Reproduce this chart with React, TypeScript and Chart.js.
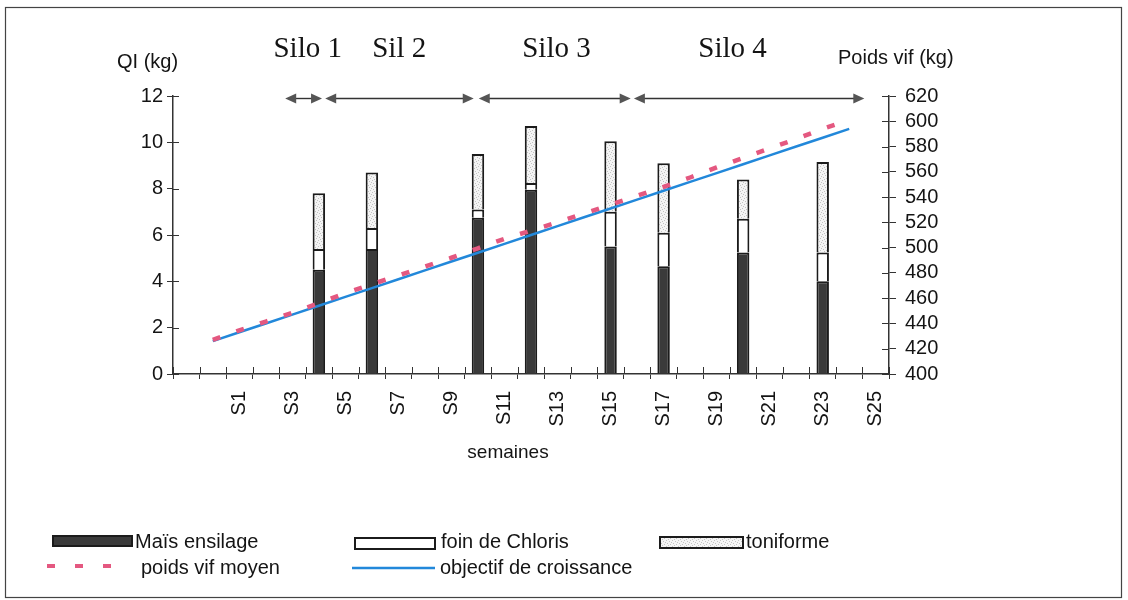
import React, { useEffect, useRef } from "react";
import { Chart, registerables } from "chart.js";

Chart.register(...registerables);

// Weeks along the category axis (first slot left empty, as in the original layout)
const weeks = [
  "", "S0", "S1", "S2", "S3", "S4", "S5", "S6", "S7", "S8", "S9", "S10", "S11", "S12",
  "S13", "S14", "S15", "S16", "S17", "S18", "S19", "S20", "S21", "S22", "S23", "S24", "S25",
];

// Daily intake (QI, kg) by feed, measured on some weeks only
const maisEnsilage = [
  null, null, null, null, null, 4.5, null, 5.4, null, null, null, 6.75, null, 7.95,
  null, null, 5.5, null, 4.65, null, null, 5.25, null, null, 4.0, null, null,
];
const foinChloris = [
  null, null, null, null, null, 0.9, null, 0.9, null, null, null, 0.35, null, 0.3,
  null, null, 1.5, null, 1.45, null, null, 1.45, null, null, 1.25, null, null,
];
const toniforme = [
  null, null, null, null, null, 2.4, null, 2.4, null, null, null, 2.4, null, 2.45,
  null, null, 3.05, null, 3.0, null, null, 1.7, null, null, 3.9, null, null,
];

// Live weight (kg)
const poidsVifMoyen = [
  null, 427, 434.5, 441.5, 448.5, 456, 464, 471, 478, 485, 492, 499.5, 507, 513.5,
  520, 527, 534, 541, 548, 555.5, 563.5, 571, 578.5, 586, 594, 601, null,
];
const objectifCroissance = [
  null, 426, 433, 440, 447, 454, 461, 468, 475, 482, 489, 496, 503, 510,
  517, 524, 531, 538, 545, 552, 559, 566, 573, 580, 587, 594, null,
];

// Silo periods, in week slots on the category axis
const siloNames = ["Silo 1", "Sil 2", "Silo 3", "Silo 4"];
const siloFrom = [3.73, 5.24, 11.03, 16.88];
const siloTo = [5.12, 10.84, 16.76, 25.57];

// Left (QI) and right (poids vif) axis ranges
const qiRange = [0, 12, 2];
const poidsRange = [400, 620, 20];

const SANS = "'Liberation Sans', Arial, sans-serif";
const SERIF = "'Liberation Serif', 'Times New Roman', serif";
const INK = "#141414";
const MAIS_COLOR = "#3a3a3a";
const PINK = "rgb(228, 88, 128)";
const BLUE = "rgb(34, 136, 218)";

function speckle(): CanvasPattern | string {
  const c = document.createElement("canvas");
  c.width = 6;
  c.height = 6;
  const g = c.getContext("2d");
  if (!g) return "#eeeeee";
  g.fillStyle = "#f4f4f4";
  g.fillRect(0, 0, 6, 6);
  g.fillStyle = "#c2c2c2";
  [[0, 0], [3, 1], [1, 3], [4, 4], [2, 5], [5, 2]].forEach(([a, b]) => g.fillRect(a, b, 1, 1));
  return g.createPattern(c, "repeat") ?? "#eeeeee";
}

function arrowHead(ctx: CanvasRenderingContext2D, tipX: number, y: number, dir: number) {
  ctx.beginPath();
  ctx.moveTo(tipX, y);
  ctx.lineTo(tipX - dir * 11, y - 5);
  ctx.lineTo(tipX - dir * 11, y + 5);
  ctx.closePath();
  ctx.fill();
}

function line(ctx: CanvasRenderingContext2D, x1: number, y1: number, x2: number, y2: number) {
  ctx.beginPath();
  ctx.moveTo(x1, y1);
  ctx.lineTo(x2, y2);
  ctx.stroke();
}

const decorPlugin = {
  id: "decor",
  afterDraw(chart: any) {
    const { ctx, chartArea, scales } = chart;
    const xs = scales.x;
    const ys = scales.y;
    const y1s = scales.y1;
    ctx.save();

    // frame
    ctx.strokeStyle = "#444";
    ctx.lineWidth = 1.2;
    ctx.strokeRect(5.5, 7.5, 1116, 590);

    // inner halves of the axis ticks
    ctx.strokeStyle = "#333";
    ctx.lineWidth = 1;
    ys.ticks.forEach((_: any, i: number) => {
      const py = Math.round(ys.getPixelForTick(i)) + 0.5;
      line(ctx, chartArea.left, py, chartArea.left + 6, py);
    });
    y1s.ticks.forEach((_: any, i: number) => {
      const py = Math.round(y1s.getPixelForTick(i)) + 0.5;
      line(ctx, chartArea.right - 7, py, chartArea.right, py);
    });
    for (let i = 0; i <= weeks.length; i++) {
      const px = Math.round(xs.getPixelForValue(i - 0.5)) + 0.5;
      line(ctx, px, chartArea.bottom - 7, px, chartArea.bottom);
    }

    // axis titles
    ctx.fillStyle = INK;
    ctx.textBaseline = "alphabetic";
    ctx.textAlign = "left";
    ctx.font = `20px ${SANS}`;
    ctx.fillText("QI (kg)", 117, 68);
    ctx.fillText("Poids vif (kg)", 838, 64);
    ctx.textAlign = "center";
    ctx.textBaseline = "middle";
    ctx.font = `19px ${SANS}`;
    ctx.fillText("semaines", 508, 453);

    // silo periods
    const arrowY = chartArea.top + 2.5;
    ctx.strokeStyle = "#333";
    ctx.fillStyle = "#555";
    ctx.lineWidth = 1.4;
    siloNames.forEach((_, i) => {
      const a = xs.getPixelForValue(siloFrom[i]);
      const b = xs.getPixelForValue(siloTo[i]);
      line(ctx, a + 4, arrowY, b - 4, arrowY);
      arrowHead(ctx, a, arrowY, -1);
      arrowHead(ctx, b, arrowY, 1);
    });
    const siloLabelAt = [4.58, 8.03, 13.96, 20.6];
    ctx.fillStyle = INK;
    ctx.font = `29px ${SERIF}`;
    ctx.textAlign = "center";
    ctx.textBaseline = "alphabetic";
    siloNames.forEach((name, i) => {
      ctx.fillText(name, xs.getPixelForValue(siloLabelAt[i]), 57);
    });

    // legend
    const row1 = 542;
    const row2 = 568;
    ctx.lineWidth = 2;
    ctx.strokeStyle = "#1b1b1b";
    ctx.fillStyle = MAIS_COLOR;
    ctx.fillRect(53, 536, 79, 10);
    ctx.strokeRect(53, 536, 79, 10);
    ctx.fillStyle = "#ffffff";
    ctx.fillRect(355, 538, 80, 11);
    ctx.strokeRect(355, 538, 80, 11);
    ctx.fillStyle = speckle();
    ctx.fillRect(660, 537, 83, 11);
    ctx.strokeRect(660, 537, 83, 11);

    ctx.strokeStyle = PINK;
    ctx.lineWidth = 4;
    ctx.setLineDash([8, 20]);
    line(ctx, 47, row2 - 2, 122, row2 - 2);
    ctx.setLineDash([]);
    ctx.strokeStyle = BLUE;
    ctx.lineWidth = 2.5;
    line(ctx, 352, row2, 435, row2);

    ctx.fillStyle = INK;
    ctx.font = `20px ${SANS}`;
    ctx.textAlign = "left";
    ctx.textBaseline = "middle";
    ctx.fillText("Maïs ensilage", 135, row1);
    ctx.fillText("foin de Chloris", 441, row1);
    ctx.fillText("toniforme", 746, row1);
    ctx.fillText("poids vif moyen", 141, row2);
    ctx.fillText("objectif de croissance", 440, row2);

    ctx.restore();
  },
};

export default function App() {
  const canvasRef = useRef<HTMLCanvasElement | null>(null);

  useEffect(() => {
    const canvas = canvasRef.current;
    if (!canvas) return;
    Chart.defaults.font.family = SANS;
    const barCommon = {
      type: "bar" as const,
      yAxisID: "y",
      borderColor: "#1b1b1b",
      borderWidth: 2,
      barPercentage: 0.47,
      categoryPercentage: 1,
      order: 1,
    };
    const chart = new Chart(canvas, {
      type: "bar",
      data: {
        labels: weeks,
        datasets: [
          {
            type: "line",
            label: "poids vif moyen",
            data: poidsVifMoyen,
            yAxisID: "y1",
            borderColor: PINK,
            borderWidth: 4.5,
            borderDash: [8, 17],
            pointRadius: 0,
            tension: 0,
            order: 0,
          },
          {
            type: "line",
            label: "objectif de croissance",
            data: objectifCroissance,
            yAxisID: "y1",
            borderColor: BLUE,
            borderWidth: 2.5,
            pointRadius: 0,
            tension: 0,
            order: 0,
          },
          { ...barCommon, label: "Maïs ensilage", data: maisEnsilage, backgroundColor: MAIS_COLOR },
          { ...barCommon, label: "foin de Chloris", data: foinChloris, backgroundColor: "#ffffff" },
          { ...barCommon, label: "toniforme", data: toniforme, backgroundColor: speckle() },
        ] as any,
      },
      options: {
        animation: false,
        responsive: false,
        maintainAspectRatio: false,
        layout: { padding: { top: 96, left: 0, right: 0, bottom: 0 } },
        plugins: {
          legend: { display: false },
          tooltip: { enabled: false },
          title: { display: false },
        },
        scales: {
          x: {
            stacked: true,
            offset: true,
            grid: {
              display: true,
              drawOnChartArea: false,
              offset: true,
              tickLength: 5,
              tickColor: "#333",
              color: "#333",
            },
            border: { display: true, color: "#333", width: 1.5 },
            ticks: {
              autoSkip: false,
              minRotation: 90,
              maxRotation: 90,
              padding: 12,
              color: INK,
              font: { size: 20, family: SANS },
              callback: (_v: any, i: number) => (i % 2 === 0 ? weeks[i] : ""),
            },
            afterFit: (s: any) => {
              s.height = 226;
            },
          },
          y: {
            type: "linear",
            position: "left",
            stacked: true,
            min: qiRange[0],
            max: qiRange[1],
            ticks: {
              stepSize: qiRange[2],
              autoSkip: false,
              padding: 4,
              color: INK,
              font: { size: 20, family: SANS },
            },
            grid: { drawOnChartArea: false, tickLength: 6, tickColor: "#333" },
            border: { display: true, color: "#333", width: 1.5 },
            afterFit: (s: any) => {
              s.width = 173;
            },
          },
          y1: {
            type: "linear",
            position: "right",
            min: poidsRange[0],
            max: poidsRange[1],
            ticks: {
              stepSize: poidsRange[2],
              autoSkip: false,
              padding: 9,
              color: INK,
              font: { size: 20, family: SANS },
            },
            grid: { drawOnChartArea: false, tickLength: 7, tickColor: "#333" },
            border: { display: true, color: "#333", width: 1.5 },
            afterFit: (s: any) => {
              s.width = 239;
            },
          },
        },
      },
      plugins: [decorPlugin],
    });
    return () => chart.destroy();
  }, []);

  return (
    <div style={{ position: "fixed", left: 0, top: 0, width: 1128, height: 600, background: "#fff" }}>
      <canvas ref={canvasRef} width={1128} height={600} style={{ width: 1128, height: 600, display: "block" }} />
    </div>
  );
}
